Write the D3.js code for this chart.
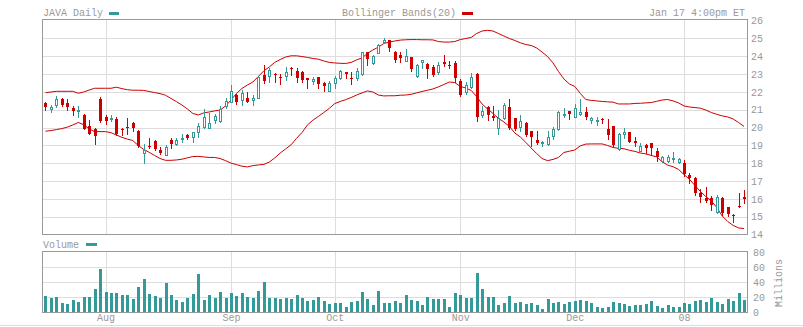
<!DOCTYPE html>
<html><head><meta charset="utf-8">
<script src="https://cdn.jsdelivr.net/npm/d3@7"></script>
<style>
body{margin:0;background:#fff;}
svg text{font-family:"Liberation Mono","DejaVu Sans Mono",monospace;font-size:10px;fill:#999;}
</style></head><body>
<svg id="chart" width="803" height="327"></svg>
<script>
// ---- trading days (categories) ----
const monthDays = [
  ["2007-07", [17,18,19,20,23,24,25,26,27,30,31]],
  ["2007-08", [1,2,3,6,7,8,9,10,13,14,15,16,17,20,21,22,23,24,27,28,29,30,31]],
  ["2007-09", [4,5,6,7,10,11,12,13,14,17,18,19,20,21,24,25,26,27,28]],
  ["2007-10", [1,2,3,4,5,8,9,10,11,12,15,16,17,18,19,22,23,24,25,26,29,30,31]],
  ["2007-11", [1,2,5,6,7,8,9,12,13,14,15,16,19,20,21,23,26,27,28,29,30]],
  ["2007-12", [3,4,5,6,7,10,11,12,13,14,17,18,19,20,21,24,26,27,28,31]],
  ["2008-01", [2,3,4,7,8,9,10,11,14,15,16,17]]
];
const monthTickLabels = ["Aug","Sep","Oct","Nov","Dec","08"];
const priceTicks = [14,15,16,17,18,19,20,21,22,23,24,25,26];
const volumeTicks = [0,20,40,60,80];

const open = [21.38,21.02,21.26,21.60,21.38,21.10,20.93,20.72,20.06,19.90,
21.62,20.58,20.45,20.48,19.90,20.05,20.28,19.82,18.55,18.95,
19.26,18.76,18.44,19.30,19.09,19.36,19.58,19.49,19.77,20.05,
19.99,20.41,20.37,21.22,21.45,21.82,21.54,21.67,21.53,21.67,
22.95,22.91,23.00,22.85,22.91,23.32,23.18,23.13,22.76,22.62,
22.85,22.52,22.07,22.48,22.76,23.10,22.80,22.76,22.98,24.22,
23.60,24.20,24.78,24.91,24.25,24.06,23.75,23.97,22.91,23.66,
23.56,23.41,23.13,23.69,23.52,23.64,22.61,22.01,22.27,23.00,
20.70,21.15,20.65,19.96,20.52,21.17,20.53,20.05,20.24,19.81,
19.30,19.11,19.06,19.54,19.92,20.68,20.93,20.61,20.74,20.89,
20.44,20.42,20.46,19.92,20.09,18.78,19.62,19.74,19.26,18.70,
19.02,19.11,18.70,18.14,18.14,18.22,18.09,18.03,17.32,17.15,
16.31,16.07,16.04,15.28,16.07,15.56,15.12,15.60,16.13];

const close = [21.17,21.15,21.58,21.26,21.17,20.90,20.96,19.93,19.65,19.55,
20.36,20.38,20.55,19.64,19.85,20.00,19.99,18.96,18.74,18.90,
18.80,18.57,18.89,19.09,19.30,19.40,19.39,19.73,20.06,20.58,
20.25,20.63,21.04,21.48,22.03,21.45,21.95,21.45,21.63,22.85,
22.61,23.23,22.92,22.76,23.11,23.28,22.80,22.66,22.66,22.72,
22.44,22.35,22.48,22.80,23.17,23.02,22.70,23.19,24.22,23.82,
24.01,24.63,24.91,24.44,23.79,23.92,24.01,23.28,23.51,23.77,
23.26,22.95,23.50,23.56,23.48,22.80,21.82,22.38,22.83,20.61,
20.93,20.70,20.54,20.52,21.26,19.96,19.90,20.37,19.58,19.49,
19.11,19.21,19.49,19.92,20.89,20.76,20.78,21.11,20.89,20.57,
20.53,20.44,20.42,19.58,19.02,19.64,19.77,19.21,19.13,18.97,
18.87,18.83,18.33,18.35,18.35,18.29,18.22,17.40,17.15,16.35,
16.09,15.90,15.64,16.13,15.19,15.15,15.08,15.55,16.01];

const high = [21.42,21.26,21.77,21.64,21.58,21.20,21.20,20.75,20.42,19.99,
21.73,20.70,20.72,20.58,20.00,20.53,20.30,19.85,19.07,19.40,
19.30,18.90,19.04,19.43,19.43,19.63,19.64,19.77,20.23,21.02,
20.83,20.73,21.19,21.68,22.37,21.90,22.09,21.97,21.82,22.91,
23.50,23.36,23.06,22.98,23.37,23.37,23.31,23.17,22.80,22.85,
22.85,22.55,22.61,22.91,23.22,23.14,23.13,23.32,24.26,24.26,
24.07,24.67,25.00,24.93,24.29,24.21,24.40,23.97,23.54,23.80,
23.60,23.50,23.66,24.07,23.75,23.73,22.72,22.53,23.08,23.07,
21.23,21.19,21.21,20.98,21.39,21.60,20.55,20.70,20.33,19.81,
19.81,19.24,19.81,20.05,20.93,21.10,20.93,21.30,21.60,21.15,
20.59,20.61,20.52,20.48,20.09,19.67,19.96,19.77,19.45,19.11,
19.07,19.15,18.83,18.40,18.43,18.61,18.27,18.18,17.46,17.20,
16.54,16.65,16.15,16.20,16.13,15.56,15.14,16.31,16.50];

const low = [20.98,20.85,21.17,21.22,20.98,20.70,20.60,19.92,19.64,19.10,
20.33,20.20,20.36,19.58,19.58,19.65,19.80,18.93,18.03,18.87,
18.74,18.53,18.44,18.87,19.02,19.20,19.33,19.20,19.47,19.95,
19.96,20.23,20.33,21.09,21.41,21.30,21.26,21.41,21.26,21.64,
22.52,22.54,22.54,22.44,22.66,22.94,22.54,22.54,22.24,22.42,
22.24,22.05,22.05,22.23,22.70,22.80,22.44,22.66,22.94,23.51,
23.56,24.16,24.72,24.31,23.69,23.66,23.73,23.19,22.83,23.36,
22.80,22.91,22.98,23.45,23.32,22.57,21.78,21.86,22.23,20.39,
20.61,20.40,20.42,19.62,20.48,19.90,19.86,19.82,19.54,18.98,
19.08,18.96,19.02,19.36,19.86,20.61,20.48,20.61,20.70,20.46,
20.24,20.14,20.24,19.36,18.98,18.74,19.43,19.17,18.97,18.70,
18.59,18.46,18.14,18.09,18.09,18.09,17.99,17.28,16.87,16.22,
15.85,15.85,15.38,15.22,15.10,15.04,14.72,15.53,15.79];

const volume = [21.3,18.7,20,12,10.7,16,13.3,20,20,30.7,
57.3,26.7,25.3,25.3,22.7,22.7,17.3,33.3,44,24,
21.3,18.7,38.7,22.7,16,13.3,18.7,24,50.7,16,
22.7,18.7,26.7,18.7,25.3,21.3,25.3,20,18.7,28,
40,18.7,18.7,17.3,18.7,17.3,22.7,18.7,14.7,16,
20,14.7,10.7,12,12,6.7,13.3,14.7,26.7,17.3,
9.3,28,12,12,14.7,12,22.7,16,14.7,9.3,
20,17.3,17.3,17.3,6.7,25.3,22.7,18.7,18.7,52,
30.7,20,20,9.3,12,21.3,12,13.3,10.7,12,
9.3,4,17.3,12,13.3,10.7,13.3,14.7,16,14.7,
12,6.7,5.3,6.7,13.3,12,10.7,8,9.3,9.3,
10.7,14.7,8,5.3,9.3,6.7,6.7,12,10.7,14.7,
16,13.3,18.7,13.3,10.7,17.3,14.7,25.3,16];

const bbUpper = [21.95,21.99,22.03,22.03,22.03,22.03,21.92,21.99,22.10,22.20,
22.20,22.20,22.20,22.26,22.18,22.12,22.09,22.09,22.08,22.02,
21.96,21.90,21.81,21.63,21.45,21.26,21.04,20.79,20.70,20.82,
20.87,20.93,20.98,21.21,21.54,21.91,22.19,22.38,22.55,22.86,
23.17,23.39,23.65,23.81,23.95,24.02,24.02,23.98,23.93,23.87,
23.83,23.73,23.65,23.62,23.60,23.59,23.65,23.79,23.90,24.15,
24.35,24.51,24.71,24.79,24.85,24.90,24.92,24.93,24.93,24.92,
24.92,24.91,24.82,24.79,24.79,24.82,24.93,24.99,25.05,25.27,
25.41,25.45,25.41,25.27,25.13,24.99,24.88,24.75,24.65,24.60,
24.46,24.23,23.98,23.62,23.14,22.72,22.44,22.30,21.91,21.57,
21.52,21.49,21.46,21.44,21.42,21.32,21.32,21.32,21.35,21.36,
21.38,21.40,21.47,21.54,21.57,21.49,21.38,21.21,21.15,21.12,
21.08,20.98,20.84,20.74,20.65,20.59,20.48,20.28,20.06];

const bbLower = [19.79,19.83,19.88,19.94,20.02,20.14,20.28,20.16,19.92,19.77,
19.77,19.77,19.71,19.58,19.45,19.35,19.27,18.99,18.77,18.61,
18.43,18.26,18.16,18.16,18.18,18.22,18.30,18.37,18.38,18.35,
18.32,18.32,18.26,18.14,18.00,17.92,17.83,17.79,17.86,17.90,
17.93,18.06,18.29,18.56,18.80,19.03,19.39,19.72,20.14,20.41,
20.62,20.84,21.07,21.34,21.46,21.56,21.68,21.82,21.94,22.05,
21.99,21.82,21.77,21.78,21.78,21.81,21.82,21.86,21.94,22.02,
22.09,22.16,22.28,22.41,22.55,22.52,22.30,22.22,22.08,21.74,
21.32,21.04,20.79,20.51,20.31,20.06,19.69,19.47,19.17,18.85,
18.54,18.26,18.14,18.21,18.32,18.60,18.67,18.74,18.97,19.07,
19.08,19.08,19.08,18.99,18.88,18.83,18.81,18.72,18.66,18.57,
18.52,18.43,18.35,18.08,17.89,17.80,17.65,17.36,17.10,16.75,
16.41,16.13,15.89,15.52,15.04,14.73,14.51,14.37,14.33];

// ---- build table ----
const dates = [];
monthDays.forEach(([m, days]) => days.forEach(d => dates.push(m + "-" + String(d).padStart(2, "0"))));
const data = dates.map((d, i) => ({date: d, o: open[i], h: high[i], l: low[i], c: close[i], v: volume[i], up: bbUpper[i], lo: bbLower[i]}));
const monthStarts = monthDays.slice(1).map(([m, days]) => m + "-" + String(days[0]).padStart(2, "0"));

const RED = "#cc0000", TEAL = "#339999", GRID = "#dddddd", FRAME = "#999999";
const svg = d3.select("#chart");

const x = d3.scalePoint().domain(dates).range([45.47, 744.03]);
const y = d3.scaleLinear().domain([14, 26]).range([234.5, 20.5]);
const yv = d3.scaleLinear().domain([0, 80]).range([312, 252]);
const L = 42.5, R = 747.5;
const px = d => Math.round(x(d));

// ---- grids ----
const g = svg.append("g").attr("shape-rendering", "crispEdges");
g.selectAll(".hg").data(priceTicks.slice(1, -1)).join("line")
  .attr("x1", L).attr("x2", R)
  .attr("y1", d => Math.round(y(d)) + 0.5).attr("y2", d => Math.round(y(d)) + 0.5)
  .attr("stroke", GRID);
g.selectAll(".vhg").data(volumeTicks.slice(1, -1)).join("line")
  .attr("x1", L).attr("x2", R)
  .attr("y1", d => Math.round(yv(d)) + 0.5).attr("y2", d => Math.round(yv(d)) + 0.5)
  .attr("stroke", GRID);
monthStarts.forEach(d => {
  const xx = px(d) + 0.5;
  g.append("line").attr("x1", xx).attr("x2", xx).attr("y1", 19.5).attr("y2", 234.5).attr("stroke", GRID);
  g.append("line").attr("x1", xx).attr("x2", xx).attr("y1", 251.5).attr("y2", 312.5).attr("stroke", GRID);
});

// ---- bollinger bands ----
const lineU = d3.line().x(d => x(d.date)).y(d => y(d.up));
const lineL = d3.line().x(d => x(d.date)).y(d => y(d.lo));
svg.append("path").datum(data).attr("d", lineU).attr("fill", "none").attr("stroke", RED).attr("stroke-width", 1);
svg.append("path").datum(data).attr("d", lineL).attr("fill", "none").attr("stroke", RED).attr("stroke-width", 1);

// ---- candles ----
const cg = svg.append("g").attr("shape-rendering", "crispEdges");
data.forEach(d => {
  const cx = px(d.date);
  const isUp = d.c >= d.o;
  const col = isUp ? TEAL : RED;
  cg.append("line").attr("x1", cx + 0.5).attr("x2", cx + 0.5)
    .attr("y1", Math.round(y(d.h))).attr("y2", Math.round(y(d.l)) + 1)
    .attr("stroke", col);
  const yTop = Math.round(y(Math.max(d.o, d.c)));
  const yBot = Math.round(y(Math.min(d.o, d.c)));
  if (isUp) {
    cg.append("rect").attr("x", cx - 0.5).attr("y", yTop + 0.5)
      .attr("width", 2).attr("height", Math.max(1, yBot - yTop))
      .attr("fill", "#fff").attr("stroke", col);
  } else {
    cg.append("rect").attr("x", cx - 1).attr("y", yTop)
      .attr("width", 3).attr("height", Math.max(1, yBot - yTop))
      .attr("fill", col);
  }
});

// ---- volume bars ----
svg.append("g").attr("shape-rendering", "crispEdges").selectAll("rect").data(data).join("rect")
  .attr("x", d => px(d.date) - 1).attr("width", 3)
  .attr("y", d => Math.round(yv(d.v))).attr("height", d => 312 - Math.round(yv(d.v)))
  .attr("fill", TEAL);

// ---- frames ----
svg.append("rect").attr("x", L).attr("y", 19.5).attr("width", R - L).attr("height", 215)
  .attr("fill", "none").attr("stroke", FRAME).attr("shape-rendering", "crispEdges");
svg.append("rect").attr("x", L).attr("y", 251.5).attr("width", R - L).attr("height", 61)
  .attr("fill", "none").attr("stroke", FRAME).attr("shape-rendering", "crispEdges");
svg.append("line").attr("x1", 0).attr("x2", 803).attr("y1", 325.5).attr("y2", 325.5)
  .attr("stroke", GRID).attr("shape-rendering", "crispEdges");

// ---- axes ----
const ay = svg.append("g").attr("transform", "translate(748,0)")
  .call(d3.axisRight(y).tickValues(priceTicks).tickSize(0).tickPadding(3).tickFormat(d3.format("d")));
const av = svg.append("g").attr("transform", "translate(748,0)")
  .call(d3.axisRight(yv).tickValues(volumeTicks).tickSize(0).tickPadding(5).tickFormat(d3.format("d")));
const ax = svg.append("g").attr("transform", "translate(0,312)")
  .call(d3.axisBottom(x).tickValues(monthStarts).tickSize(0).tickPadding(2)
    .tickFormat((d, i) => monthTickLabels[i]));
[ay, av, ax].forEach(a => {
  a.select(".domain").remove();
  a.selectAll("text").attr("fill", "#999").style("font-family", null).style("font-size", null)
    .attr("font-family", null).attr("font-size", null);
});

// ---- legend texts ----
svg.append("text").attr("x", 43).attr("y", 16).text("JAVA Daily");
svg.append("rect").attr("x", 109).attr("y", 12).attr("width", 10).attr("height", 3).attr("fill", TEAL);
svg.append("text").attr("x", 342).attr("y", 16).text("Bollinger Bands(20)");
svg.append("rect").attr("x", 462).attr("y", 12).attr("width", 11).attr("height", 3).attr("fill", RED);
svg.append("text").attr("x", 745).attr("y", 16).attr("text-anchor", "end").text("Jan 17 4:00pm ET");
svg.append("text").attr("x", 43).attr("y", 247.5).text("Volume");
svg.append("rect").attr("x", 86).attr("y", 243).attr("width", 11).attr("height", 3).attr("fill", TEAL);
svg.append("text").attr("transform", "translate(781.5,283) rotate(-90)").attr("text-anchor", "middle").text("Millions");
</script>
</body></html>
